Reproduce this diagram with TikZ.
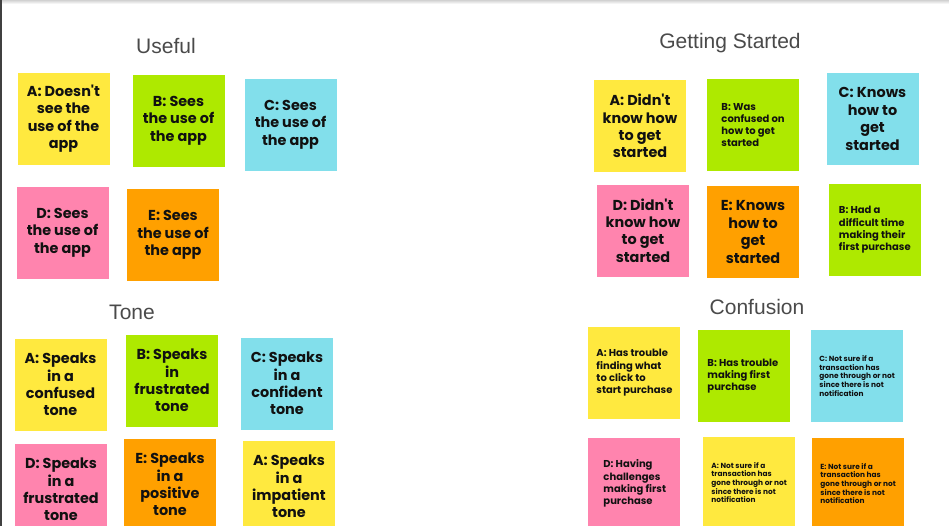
\documentclass[tikz,border=0pt]{standalone}
\usepackage{fontspec}
\newfontfamily\notefont{Poppins}
\newfontfamily\titlefont{Liberation Sans}
\definecolor{nyel}{HTML}{FFE93F}
\definecolor{ngrn}{HTML}{AEE900}
\definecolor{ncyn}{HTML}{82DFEB}
\definecolor{npnk}{HTML}{FF84AE}
\definecolor{nora}{HTML}{FFA000}
\definecolor{ttl}{HTML}{4A4A4A}
\definecolor{ink}{HTML}{111111}
\tikzset{
  note/.style={rectangle, minimum width=93pt, minimum height=93pt, inner sep=0pt, draw=white, line width=0.5pt},
  title/.style={font=\titlefont\fontsize{21}{24}\selectfont, text=ttl, inner sep=0pt},
  bigtext/.style={font=\notefont\bfseries\fontsize{14.4}{17.4}\selectfont, text=ink, align=center, inner sep=0pt},
  midtext/.style={font=\notefont\bfseries\fontsize{10}{12.3}\selectfont, text=ink, align=left, inner sep=0pt, anchor=west},
  smalltext/.style={font=\notefont\bfseries\fontsize{7.4}{8.7}\selectfont, text=ink, align=left, inner sep=0pt, anchor=west}
}
\begin{document}
\begin{tikzpicture}[x=1pt,y=-1pt]
\useasboundingbox (0,0) rectangle (949,526);
\fill[white] (0,0) rectangle (949,526);
\shade[top color=black!18, bottom color=white] (0,0) rectangle (949,4);
\fill[black!75] (0,0) rectangle (2,526);

% Useful
\node[title] (t-useful) at (166,46) {Useful};
\node[note, fill=nyel] (u-a) at (63.5,118.5) {};
\node[note, fill=ngrn] (u-b) at (178.5,120.5) {};
\node[note, fill=ncyn] (u-c) at (290.5,124.5) {};
\node[note, fill=npnk] (u-d) at (62.5,232.5) {};
\node[note, fill=nora] (u-e) at (173,235) {};
\node[bigtext] (u-a-t) at (u-a) {A: Doesn't\\see the\\use of the\\app};
\node[bigtext] (u-b-t) at (u-b) {B: Sees\\the use of\\the app};
\node[bigtext] (u-c-t) at (u-c) {C: Sees\\the use of\\the app};
\node[bigtext] (u-d-t) at (u-d) {D: Sees\\the use of\\the app};
\node[bigtext] (u-e-t) at (u-e) {E: Sees\\the use of\\the app};

% Tone
\node[title] (t-tone) at (132,312) {Tone};
\node[note, fill=nyel] (t-a) at (60.5,384.5) {};
\node[note, fill=ngrn] (t-b) at (172,380.5) {};
\node[note, fill=ncyn] (t-c) at (287,383.5) {};
\node[note, fill=npnk] (t-d) at (61,489.5) {};
\node[note, fill=nora] (t-e) at (170,484.5) {};
\node[note, fill=nyel] (t-a2) at (289,486.5) {};
\node[bigtext] (t-a-t) at (t-a) {A: Speaks\\in a\\confused\\tone};
\node[bigtext] (t-b-t) at (t-b) {B: Speaks\\in\\frustrated\\tone};
\node[bigtext] (t-c-t) at (t-c) {C: Speaks\\in a\\confident\\tone};
\node[bigtext] (t-d-t) at (t-d) {D: Speaks\\in a\\frustrated\\tone};
\node[bigtext] (t-e-t) at (t-e) {E: Speaks\\in a\\positive\\tone};
\node[bigtext] (t-a2-t) at (t-a2) {A: Speaks\\in a\\impatient\\tone};

% Getting Started
\node[title] (t-gs) at (730,43) {Getting Started};
\node[note, fill=nyel] (g-a) at (640,126) {};
\node[note, fill=ngrn] (g-b) at (753,125) {};
\node[note, fill=ncyn] (g-c) at (872.5,119) {};
\node[note, fill=npnk] (g-d) at (643,230.5) {};
\node[note, fill=nora] (g-e) at (753,232) {};
\node[note, fill=ngrn] (g-b2) at (874.5,230) {};
\node[bigtext] (g-a-t) at (g-a) {A: Didn't\\know how\\to get\\started};
\node[midtext] (g-b-t) at ([xshift=15pt]g-b.west) {B: Was\\confused on\\how to get\\started};
\node[bigtext] (g-c-t) at (g-c) {C: Knows\\how to\\get\\started};
\node[bigtext] (g-d-t) at (g-d) {D: Didn't\\know how\\to get\\started};
\node[bigtext] (g-e-t) at (g-e) {E: Knows\\how to\\get\\started};
\node[midtext] (g-b2-t) at ([xshift=11pt]g-b2.west) {B: Had a\\difficult time\\making their\\first purchase};

% Confusion
\node[title] (t-conf) at (757,307) {Confusion};
\node[note, fill=nyel] (c-a) at (634,373) {};
\node[note, fill=ngrn] (c-b) at (744,376) {};
\node[note, fill=ncyn] (c-c) at (857,376) {};
\node[note, fill=npnk] (c-d) at (634,483.5) {};
\node[note, fill=nyel] (c-a2) at (749,482.5) {};
\node[note, fill=nora] (c-e) at (858,483.5) {};
\node[midtext] (c-a-t) at ([xshift=9pt]c-a.west) {A: Has trouble\\finding what\\to click to\\start purchase};
\node[midtext] (c-b-t) at ([xshift=10pt]c-b.west) {B: Has trouble\\making first\\purchase};
\node[smalltext] (c-c-t) at ([xshift=9pt]c-c.west) {C: Not sure if a\\transaction has\\gone through or not\\since there is not\\notification};
\node[midtext] (c-d-t) at ([xshift=16pt]c-d.west) {D: Having\\challenges\\making first\\purchase};
\node[smalltext] (c-a2-t) at ([xshift=9pt]c-a2.west) {A: Not sure if a\\transaction has\\gone through or not\\since there is not\\notification};
\node[smalltext] (c-e-t) at ([xshift=9pt]c-e.west) {E: Not sure if a\\transaction has\\gone through or not\\since there is not\\notification};
\end{tikzpicture}
\end{document}
